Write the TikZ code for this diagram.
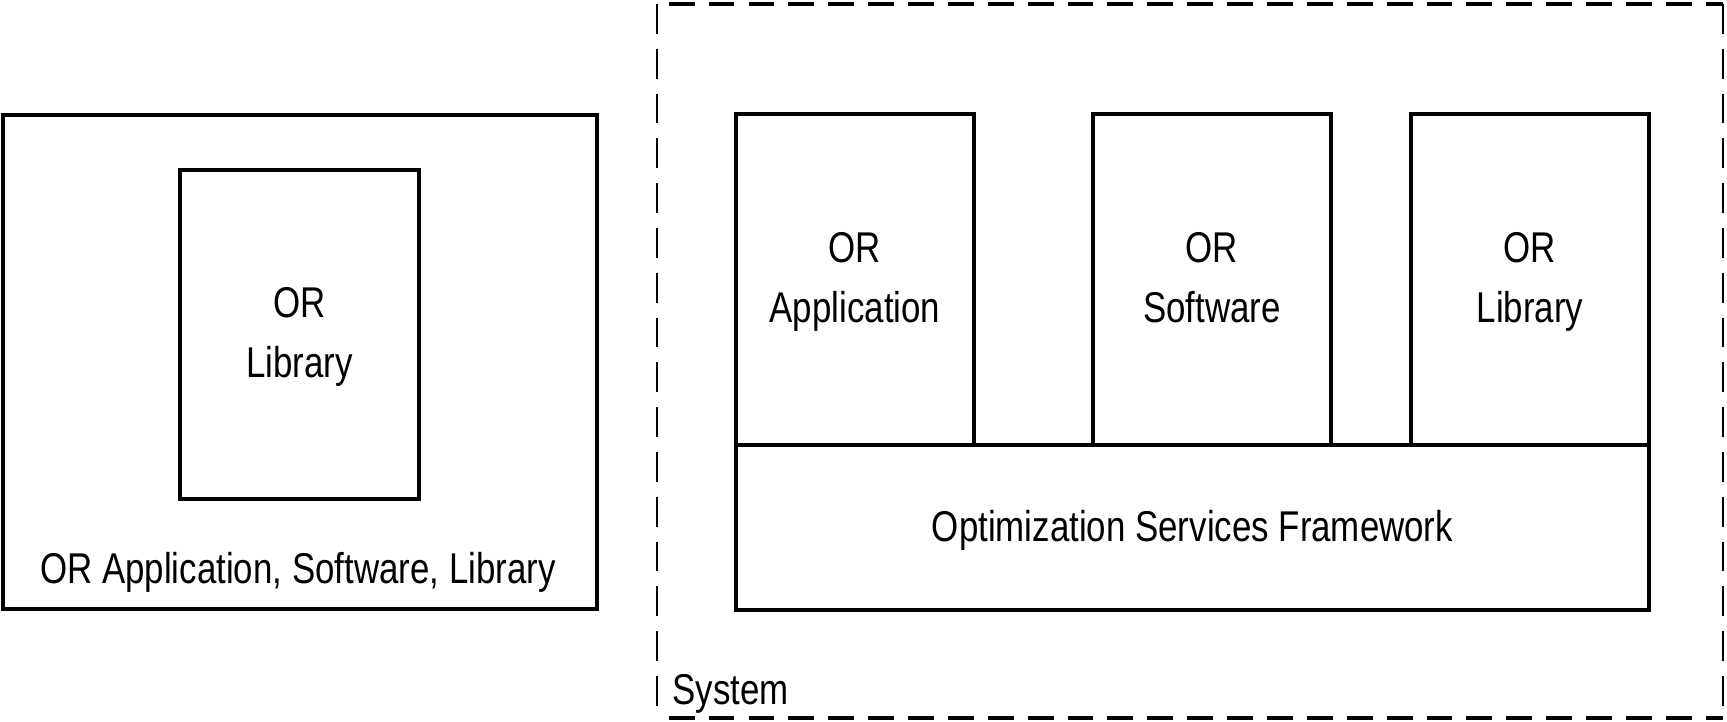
\documentclass[tikz,border=0pt]{standalone}
\usepackage{fontspec}
\setmainfont{Liberation Sans}[FakeStretch=0.81]
\begin{document}
\begin{tikzpicture}[x=0.02cm,y=-0.02cm,
  box/.style={draw, line width=2pt, inner sep=0pt, align=center},
  lbl/.style={font=\fontsize{24.5}{34}\selectfont, align=center, inner sep=0pt, text depth=0.22em},
  hdash/.style={line width=2.3pt, dash pattern=on 14.7pt off 8pt, dash phase=16pt},
  vdash/.style={line width=1.2pt, dash pattern=on 17pt off 8.5pt}]
\useasboundingbox (0,0) rectangle (1727,722);
% left: OR application containing library
\node[box, minimum width=594*0.02cm, minimum height=494*0.02cm] (outer) at (300,362) {};
\node[box, lbl, minimum width=239*0.02cm, minimum height=329*0.02cm] (innerlib) at (299.5,334.5) {OR\\Library};
\node[lbl, anchor=base] (outerlbl) at (298,583) {OR Application, Software, Library};
% right: system
\coordinate (snw) at (657,4);
\coordinate (sne) at (1723,4);
\coordinate (ssw) at (657,718);
\coordinate (sse) at (1723,718);
\draw[hdash] (snw) -- (sne);
\draw[hdash] (ssw) -- (sse);
\draw[vdash] (snw) -- (ssw);
\draw[vdash] (sne) -- (sse);
\node[lbl, anchor=base west] (syslbl) at (672,704) {System};
\node[box, lbl, minimum width=238*0.02cm, minimum height=331*0.02cm] (app) at (855,279.5) {OR\\Application};
\node[box, lbl, minimum width=238*0.02cm, minimum height=331*0.02cm] (soft) at (1212,279.5) {OR\\Software};
\node[box, lbl, minimum width=238*0.02cm, minimum height=331*0.02cm] (lib) at (1530,279.5) {OR\\Library};
\node[box, lbl, line width=2.3pt, minimum width=913*0.02cm, minimum height=165*0.02cm] (osf) at (1192.5,527.5) {Optimization Services Framework};
\end{tikzpicture}
\end{document}
